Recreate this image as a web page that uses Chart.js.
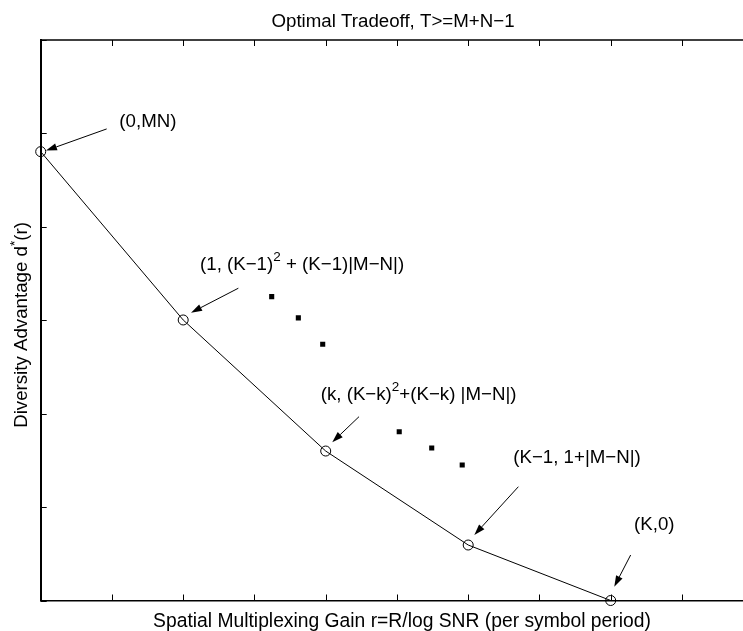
<!DOCTYPE html>
<html>
<head>
<meta charset="utf-8">
<script src="https://cdn.jsdelivr.net/npm/chart.js@4/dist/chart.umd.min.js"></script>
<style>
html, body { margin: 0; padding: 0; background: #fff; overflow: hidden; }
#wrap { width: 760px; height: 631px; }
</style>
</head>
<body>
<div id="wrap"><canvas id="tradeoffChart" width="760" height="631"></canvas></div>
<script>
// corner points of the optimal tradeoff curve
const gainPoints = [0, 1, 2, 3, 4];
const diversityPoints = [4.805, 3.003, 1.60, 0.594, 0];

// the "..." dots between the labelled points
const dotsX = [1.621, 1.808, 1.979, 2.516, 2.744, 2.958];
const dotsY = [3.253, 3.025, 2.743, 1.807, 1.633, 1.451];

// annotation texts (data position of the text baseline start)
const noteTexts = [
    [{ t: '(0,MN)' }],
    [{ t: '(1, (K\u22121)' }, { t: '2', sup: true }, { t: ' + (K\u22121)|M\u2212N|)' }],
    [{ t: '(k, (K\u2212k)' }, { t: '2', sup: true }, { t: '+(K\u2212k) |M\u2212N|)' }],
    [{ t: '(K\u22121, 1+|M\u2212N|)' }],
    [{ t: '(K,0)' }]
];
const noteX = [0.552, 1.118, 1.965, 3.316, 4.164];
const noteY = [5.07, 3.54, 2.147, 1.472, 0.755];

// arrows from the texts to the points
const arrowFromX = [0.463, 1.387, 2.234, 3.352, 4.140];
const arrowFromY = [5.048, 3.343, 1.968, 1.218, 0.487];
const arrowToX = [0.037, 1.055, 2.046, 3.043, 4.025];
const arrowToY = [4.816, 3.081, 1.694, 0.701, 0.148];

const titleText = 'Optimal Tradeoff, T>=M+N\u22121';
const xTitle = 'Spatial Multiplexing Gain r=R/log SNR (per symbol period)';
const yTitle = [{ t: 'Diversity Advantage d' }, { t: '*', sup: true }, { t: '(r)' }];

const FONT = "'Liberation Sans', Arial, Helvetica, sans-serif";
let mainFont = '18.7px ' + FONT;
const supFont = '13.5px ' + FONT;

function drawRich(ctx, segs, x, y, align) {
    const widths = segs.map(s => {
        ctx.font = s.sup ? supFont : mainFont;
        return ctx.measureText(s.t).width;
    });
    const total = widths.reduce((a, b) => a + b, 0);
    let cx = align === 'center' ? x - total / 2 : x;
    ctx.textAlign = 'left';
    ctx.textBaseline = 'alphabetic';
    segs.forEach((s, i) => {
        ctx.font = s.sup ? supFont : mainFont;
        ctx.fillText(s.t, cx, s.sup ? y - 8.5 : y);
        cx += widths[i];
    });
}

function drawArrow(ctx, x1, y1, x2, y2) {
    const ang = Math.atan2(y2 - y1, x2 - x1);
    const headLen = 11;
    const headHalf = 3.6;
    const bx = x2 - headLen * Math.cos(ang);
    const by = y2 - headLen * Math.sin(ang);
    ctx.beginPath();
    ctx.moveTo(x1, y1);
    ctx.lineTo(bx, by);
    ctx.stroke();
    ctx.beginPath();
    ctx.moveTo(x2, y2);
    ctx.lineTo(bx + headHalf * Math.sin(ang), by - headHalf * Math.cos(ang));
    ctx.lineTo(bx - headHalf * Math.sin(ang), by + headHalf * Math.cos(ang));
    ctx.closePath();
    ctx.fill();
}

const matlabFrame = {
    id: 'matlabFrame',
    afterDraw(chart) {
        const ctx = chart.ctx;
        const area = chart.chartArea;
        const xs = chart.scales.x;
        const ys = chart.scales.y;
        ctx.save();
        ctx.strokeStyle = '#000';
        ctx.fillStyle = '#000';

        // top edge of the box
        ctx.lineWidth = 1.5;
        ctx.beginPath();
        ctx.moveTo(area.left, area.top);
        ctx.lineTo(area.right, area.top);
        ctx.stroke();

        // inward ticks
        ctx.lineWidth = 1;
        const tl = 6;
        xs.ticks.forEach(t => {
            const px = Math.round(xs.getPixelForValue(t.value)) + 0.5;
            ctx.beginPath();
            ctx.moveTo(px, area.bottom);
            ctx.lineTo(px, area.bottom - tl);
            ctx.moveTo(px, area.top);
            ctx.lineTo(px, area.top + tl);
            ctx.stroke();
        });
        ys.ticks.forEach(t => {
            const py = Math.round(ys.getPixelForValue(t.value)) + 0.5;
            ctx.beginPath();
            ctx.moveTo(area.left, py);
            ctx.lineTo(area.left + tl, py);
            ctx.stroke();
        });

        // arrows
        ctx.lineWidth = 1;
        arrowFromX.forEach((v, i) => {
            drawArrow(ctx,
                xs.getPixelForValue(v), ys.getPixelForValue(arrowFromY[i]),
                xs.getPixelForValue(arrowToX[i]), ys.getPixelForValue(arrowToY[i]));
        });

        // annotation texts
        noteTexts.forEach((segs, i) => {
            drawRich(ctx, segs, xs.getPixelForValue(noteX[i]), ys.getPixelForValue(noteY[i]), 'left');
        });

        // titles
        drawRich(ctx, [{ t: titleText }], 393, 26.5, 'center');
        const keep = mainFont;
        mainFont = '19.3px ' + FONT;
        drawRich(ctx, [{ t: xTitle }], 402, 627, 'center');
        mainFont = keep;
        ctx.translate(27, 325);
        ctx.rotate(-Math.PI / 2);
        drawRich(ctx, yTitle, 0, 0, 'center');
        ctx.restore();
    }
};

const ctx = document.getElementById('tradeoffChart').getContext('2d');

new Chart(ctx, {
    type: 'line',
    data: {
        datasets: [{
            data: gainPoints.map((x, i) => ({ x: x, y: diversityPoints[i] })),
            borderColor: '#000',
            borderWidth: 1,
            tension: 0,
            fill: false,
            pointStyle: 'circle',
            pointRadius: 5,
            pointBorderWidth: 1,
            pointBorderColor: '#000',
            pointBackgroundColor: 'rgba(0,0,0,0)',
            clip: false
        }, {
            data: dotsX.map((x, i) => ({ x: x, y: dotsY[i] })),
            showLine: false,
            pointStyle: 'rect',
            pointRadius: 3.6,
            pointBorderWidth: 0,
            pointBackgroundColor: '#000',
            pointBorderColor: '#000'
        }]
    },
    options: {
        responsive: false,
        animation: false,
        devicePixelRatio: 1,
        layout: {
            padding: { top: 40, right: 6.8, left: 0, bottom: 0 }
        },
        plugins: {
            legend: { display: false },
            tooltip: { enabled: false },
            title: { display: false }
        },
        scales: {
            x: {
                type: 'linear',
                min: 0,
                max: 5,
                ticks: { display: false, stepSize: 0.5 },
                grid: { display: false },
                border: { display: true, color: '#000', width: 1.5 },
                afterFit: (scale) => { scale.height = 30.5; }
            },
            y: {
                min: 0,
                max: 6,
                ticks: { display: false, stepSize: 1 },
                grid: { display: false },
                border: { display: true, color: '#000', width: 2 },
                afterFit: (scale) => { scale.width = 40.7; }
            }
        }
    },
    plugins: [matlabFrame]
});
</script>
</body>
</html>
